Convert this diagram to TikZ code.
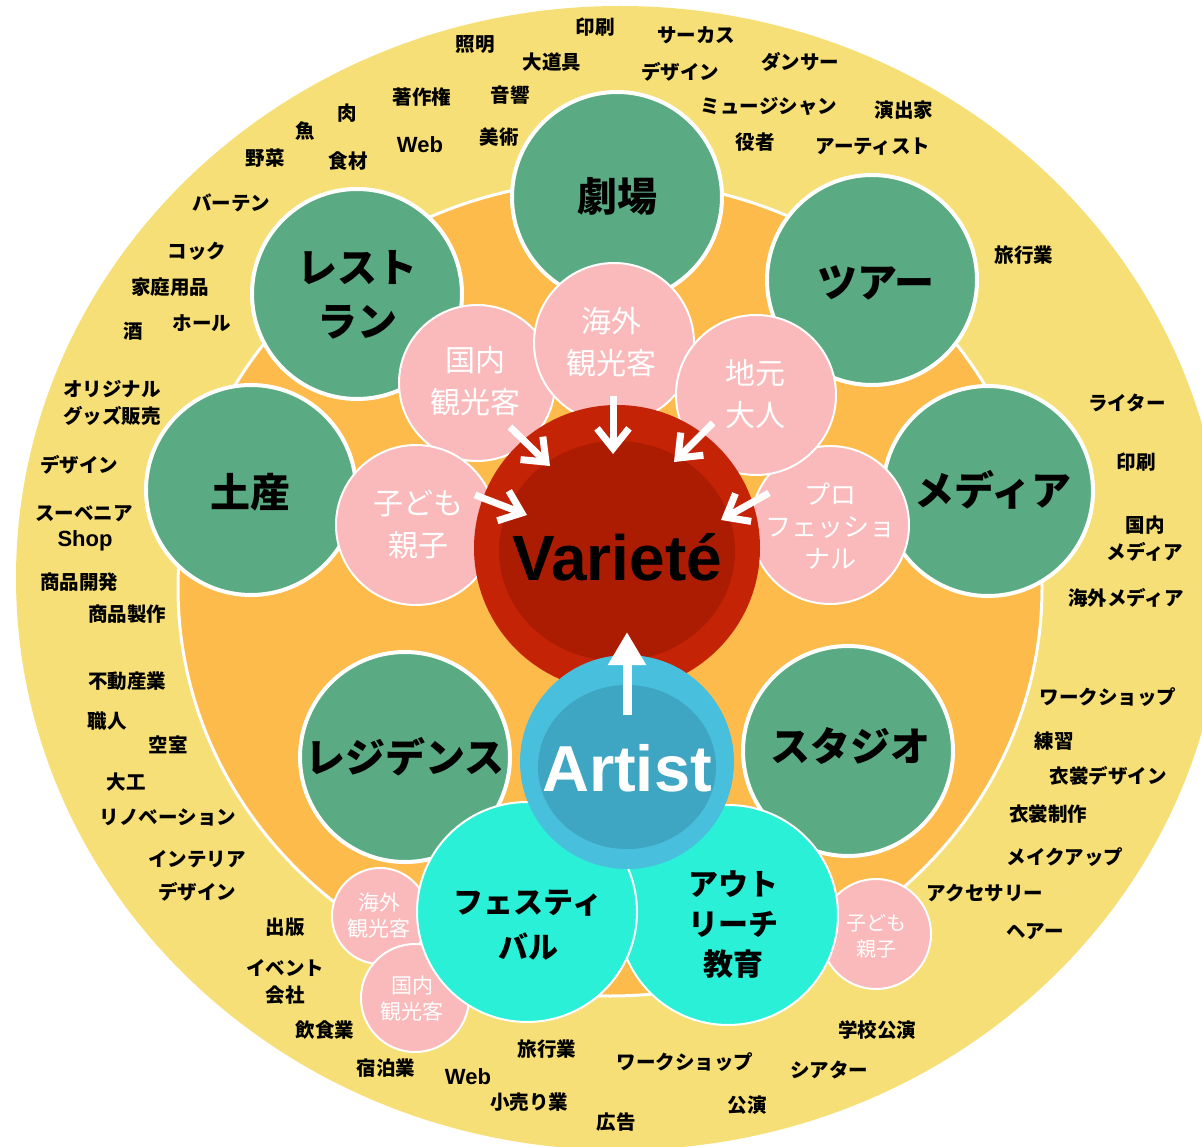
\documentclass[tikz,border=0pt]{standalone}
\usepackage{fontspec}
\newfontfamily\jp{Noto Sans CJK JP}
\newfontfamily\lat{Liberation Sans}
\usetikzlibrary{arrows.meta}
\definecolor{yellowbg}{HTML}{F7DF77}
\definecolor{orangebg}{HTML}{FDBB4C}
\definecolor{greenfill}{HTML}{5AAA84}
\definecolor{pinkfill}{HTML}{FAB9BA}
\definecolor{cyanfill}{HTML}{2BF0D8}
\definecolor{redout}{HTML}{C52306}
\definecolor{redin}{HTML}{AC1C03}
\definecolor{blueout}{HTML}{49BFDE}
\definecolor{bluein}{HTML}{3EA5C3}
\begin{document}
\begin{tikzpicture}[x=1pt,y=-1pt,
  gcirc/.style={circle,fill=greenfill,draw=white,line width=4pt,minimum size=210pt,inner sep=0pt},
  ccirc/.style={circle,fill=cyanfill,draw=white,line width=2pt,minimum size=220pt,inner sep=0pt},
  pcirc/.style={circle,fill=pinkfill,draw=white,line width=2pt,inner sep=0pt},
  bigtxt/.style={font=\jp\bfseries\fontsize{40}{54}\selectfont,align=center,text=black,inner sep=0pt},
  cytxt/.style={font=\jp\bfseries\fontsize{30}{41}\selectfont,align=center,text=black,inner sep=0pt},
  pktxt/.style={font=\jp\fontsize{30}{42}\selectfont,align=center,text=white,inner sep=0pt},
  pksmall/.style={font=\jp\fontsize{21}{26}\selectfont,align=center,text=white,inner sep=0pt},
  lab/.style={font=\jp\bfseries\fontsize{19.5}{27}\selectfont,align=center,text=black,inner sep=0pt},
  latlab/.style={font=\lat\bfseries\fontsize{22}{27}\selectfont,align=center,text=black,inner sep=0pt},
  arr/.style={draw=white,line width=7pt,-{Straight Barb[length=20pt,width=32pt]}}
]
\useasboundingbox (0,0) rectangle (1202,1147);
\begin{scope}
\clip (0,0) rectangle (1202,1147);
\fill[yellowbg] (620,578) ellipse [x radius=604pt, y radius=572pt];
\end{scope}
\draw[fill=orangebg,draw=white,line width=3pt] (610,588) ellipse [x radius=432pt, y radius=408pt];

% green circles
\node[gcirc] (geki) at (617,197) {};
\node[gcirc] (tour) at (872,280) {};
\node[gcirc] (media) at (988,491) {};
\node[gcirc] (studio) at (848,751) {};
\node[gcirc] (resid) at (405,757) {};
\node[gcirc] (miyage) at (251,490) {};
\node[gcirc] (rest) at (357,294) {};
\node[bigtxt] (tgeki) at (617,196) {劇場};
\node[bigtxt] (ttour) at (876,283) {ツアー};
\node[bigtxt] (tmedia) at (993,490) {メディア};
\node[bigtxt] (tstudio) at (850,746) {スタジオ};
\node[bigtxt] (tresid) at (405,757) {レジデンス};
\node[bigtxt] (tmiyage) at (250,492) {土産};
\node[bigtxt] (trest) at (357,295) {レスト\\ラン};

% large pink circles
\node[pcirc,minimum size=156pt] (pk1) at (477,383) {};
\node[pcirc,minimum size=160pt] (pk4) at (416,525) {};
\node[pcirc,minimum size=160pt] (pk2) at (614,343) {};
\node[pcirc,minimum size=158pt] (pk5) at (830,525) {};
\node[pcirc,minimum size=160pt] (pk3) at (756,395) {};
\node[pktxt] (tpk1) at (475,381) {国内\\観光客};
\node[pktxt] (tpk2) at (611,342) {海外\\観光客};
\node[pktxt] (tpk3) at (755,394) {地元\\大人};
\node[pktxt] (tpk4) at (418,525) {子ども\\親子};
\node[pktxt,font=\jp\fontsize{26}{32}\selectfont] (tpk5) at (830,526) {プロ\\フェッショ\\ナル};

% Variete
\node[circle,fill=redout,minimum size=286pt,inner sep=0pt] (var) at (617,548) {};
\fill[redin] (617,551) ellipse [x radius=118pt, y radius=110pt];
\node[font=\lat\bfseries\fontsize{64}{64}\selectfont,text=black,inner sep=0pt] (tvar) at (617,557) {Varieté};

% small pink circles
\node[pcirc,minimum size=96pt] (sp1) at (380,916) {};
\node[pcirc,minimum size=108pt] (sp2) at (415,998) {};
\node[pcirc,minimum size=110pt] (sp3) at (876,934) {};
\node[pksmall] (tsp1) at (379,916) {海外\\観光客};
\node[pksmall] (tsp2) at (412,999) {国内\\観光客};
\node[pksmall,font=\jp\fontsize{20}{26}\selectfont] (tsp3) at (876,936) {子ども\\親子};

% cyan circles
\node[ccirc] (outr) at (728,915) {};
\node[ccirc] (fest) at (527,912) {};
\node[cytxt,font=\jp\bfseries\fontsize{30}{45}\selectfont] (tfest) at (528,925) {フェスティ\\バル};
\node[cytxt,font=\jp\bfseries\fontsize{30}{40}\selectfont] (toutr) at (733,925) {アウト\\リーチ\\教育};

% Artist
\node[circle,fill=blueout,minimum size=214pt,inner sep=0pt] (art) at (627,762) {};
\fill[bluein] (627,767) ellipse [x radius=89pt, y radius=82pt];
\node[font=\lat\bfseries\fontsize{65}{65}\selectfont,text=white,inner sep=0pt] (tart) at (627,768) {Artist};

% arrows
\coordinate (a1s) at (510,427); \coordinate (a1e) at (550,466);
\coordinate (a2s) at (613,396); \coordinate (a2e) at (613,454);
\coordinate (a3s) at (713,423); \coordinate (a3e) at (674,462);
\coordinate (a4s) at (475,495); \coordinate (a4e) at (527,515);
\coordinate (a5s) at (769,493); \coordinate (a5e) at (721,520);
\draw[arr] (a1s) -- (a1e);
\draw[arr] (a2s) -- (a2e);
\draw[arr] (a3s) -- (a3e);
\draw[arr] (a4s) -- (a4e);
\draw[arr] (a5s) -- (a5e);
\coordinate (bas) at (627,715); \coordinate (bae) at (627,632);
\draw[white,line width=9pt,-{Triangle[length=33pt,width=36pt]}] (bas) -- (bae);

% labels
\node[lab] (l1) at (475,44) {照明};
\node[lab] (l2) at (595,27) {印刷};
\node[lab] (l3) at (696,35) {サーカス};
\node[lab] (l4) at (552,62) {大道具};
\node[lab] (l5) at (680,72) {デザイン};
\node[lab] (l6) at (800,62) {ダンサー};
\node[lab] (l7) at (422,97) {著作権};
\node[lab] (l8) at (510,95) {音響};
\node[lab] (l9) at (347,113) {肉};
\node[lab] (l10) at (305,131) {魚};
\node[lab] (l11) at (769,107) {ミュージシャン};
\node[lab] (l12) at (904,110) {演出家};
\node[latlab] (l13) at (420,145) {Web};
\node[lab] (l14) at (499,137) {美術};
\node[lab] (l15) at (755,142) {役者};
\node[lab] (l16) at (873,147) {アーティスト};
\node[lab] (l17) at (265,158) {野菜};
\node[lab] (l18) at (348,161) {食材};
\node[lab] (l19) at (231,203) {バーテン};
\node[lab] (l20) at (197,251) {コック};
\node[lab] (l21) at (170,287) {家庭用品};
\node[lab] (l22) at (133,331) {酒};
\node[lab] (l23) at (202,323) {ホール};
\node[lab] (l24) at (1024,255) {旅行業};
\node[lab] (l25) at (112,403) {オリジナル\\グッズ販売};
\node[lab] (l26) at (79,465) {デザイン};
\node[lab] (l27a) at (84,514) {スーベニア};
\node[latlab] (l27b) at (85,541) {Shop};
\node[lab] (l28) at (79,582) {商品開発};
\node[lab] (l29) at (127,614) {商品製作};
\node[lab] (l30) at (127,681) {不動産業};
\node[lab] (l31) at (107,721) {職人};
\node[lab] (l32) at (168,745) {空室};
\node[lab] (l33) at (126,782) {大工};
\node[lab] (l34) at (168,817) {リノベーション};
\node[lab] (l35) at (197,859) {インテリア};
\node[lab] (l36) at (197,892) {デザイン};
\node[lab] (l37) at (285,927) {出版};
\node[lab] (l38) at (285,982) {イベント\\会社};
\node[lab] (l39) at (325,1030) {飲食業};
\node[lab] (l40) at (386,1068) {宿泊業};
\node[latlab] (l41) at (468,1077) {Web};
\node[lab] (l42) at (547,1049) {旅行業};
\node[lab] (l43) at (529,1102) {小売り業};
\node[lab] (l44) at (616,1122) {広告};
\node[lab] (l45) at (685,1062) {ワークショップ};
\node[lab] (l46) at (747,1105) {公演};
\node[lab] (l47) at (829,1070) {シアター};
\node[lab] (l48) at (877,1030) {学校公演};
\node[lab] (l49) at (1127,403) {ライター};
\node[lab] (l50) at (1136,462) {印刷};
\node[lab] (l51) at (1145,539) {国内\\メディア};
\node[lab] (l52) at (1126,598) {海外メディア};
\node[lab] (l53) at (1108,697) {ワークショップ};
\node[lab] (l54) at (1054,741) {練習};
\node[lab] (l55) at (1108,776) {衣裳デザイン};
\node[lab] (l56) at (1048,814) {衣裳制作};
\node[lab] (l57) at (1065,857) {メイクアップ};
\node[lab] (l58) at (985,893) {アクセサリー};
\node[lab] (l59) at (1035,932) {ヘアー};
\end{tikzpicture}
\end{document}
